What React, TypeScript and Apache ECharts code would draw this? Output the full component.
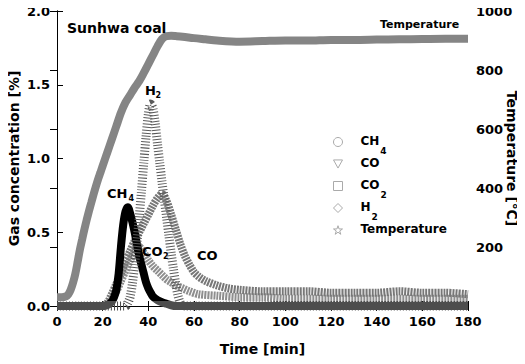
import React, { useEffect, useRef } from "react";
import * as echarts from "echarts";

const FONT = "DejaVu Sans";
const DARK = "#4d4d4d";

// Time ticks
const timeTicks = [0, 20, 40, 60, 80, 100, 120, 140, 160, 180];

// Temperature [°C]
const tempTime = [0, 2, 4, 5, 6, 7, 8, 9, 10, 11, 12, 13, 14, 15, 16, 17, 18, 19, 20, 22, 24, 26, 28, 30, 32, 34, 36, 38, 40, 42, 44, 46, 48, 50, 52, 55, 60, 65, 70, 80, 90, 100, 110, 120, 130, 140, 150, 160, 170, 180];
const tempValue = [30, 30, 33, 40, 55, 78, 108, 148, 190, 225, 260, 292, 322, 350, 378, 405, 430, 452, 475, 520, 565, 610, 655, 690, 715, 740, 762, 790, 820, 850, 880, 905, 915, 916, 915, 913, 908, 904, 900, 896, 898, 900, 900, 902, 902, 903, 904, 905, 906, 906];

// CH4 [%]
const ch4Time = [0, 10, 20, 22, 24, 25, 26, 27, 28, 29, 30, 31, 32, 33, 34, 35, 36, 37, 38, 39, 40, 41, 42, 44, 46, 48, 50, 52, 60, 80, 100, 120, 140, 160, 180];
const ch4Value = [0, 0, 0, 0.005, 0.03, 0.06, 0.11, 0.22, 0.4, 0.55, 0.64, 0.67, 0.63, 0.57, 0.5, 0.42, 0.34, 0.28, 0.22, 0.16, 0.12, 0.09, 0.065, 0.04, 0.025, 0.015, 0.005, 0, 0, 0, 0, 0, 0, 0, 0];

// CO [%]
const coTime = [0, 10, 20, 22, 24, 26, 28, 30, 32, 34, 36, 38, 40, 42, 44, 46, 48, 50, 52, 54, 56, 58, 60, 62, 65, 70, 75, 80, 90, 100, 110, 120, 130, 140, 150, 160, 170, 180];
const coValue = [0, 0, 0, 0.02, 0.08, 0.15, 0.22, 0.3, 0.37, 0.44, 0.5, 0.56, 0.62, 0.68, 0.73, 0.76, 0.71, 0.62, 0.52, 0.42, 0.34, 0.28, 0.23, 0.2, 0.17, 0.14, 0.12, 0.11, 0.1, 0.1, 0.1, 0.09, 0.09, 0.09, 0.1, 0.09, 0.09, 0.08];

// CO2 [%]
const co2Time = [0, 10, 20, 22, 24, 26, 28, 30, 32, 34, 36, 38, 40, 42, 44, 46, 48, 50, 52, 55, 58, 62, 70, 80, 90, 100, 120, 140, 160, 180];
const co2Value = [0, 0, 0, 0.01, 0.05, 0.1, 0.17, 0.24, 0.31, 0.37, 0.4, 0.36, 0.31, 0.27, 0.24, 0.21, 0.18, 0.16, 0.14, 0.12, 0.1, 0.08, 0.07, 0.06, 0.06, 0.05, 0.05, 0.05, 0.05, 0.05];

// H2 [%]
const h2Time = [0, 10, 20, 30, 31, 32, 33, 34, 35, 36, 37, 38, 39, 40, 41, 42, 43, 44, 45, 46, 47, 48, 49, 50, 51, 52, 53, 54, 55, 60, 80, 100, 120, 140, 160, 180];
const h2Value = [0, 0, 0, 0, 0.02, 0.06, 0.15, 0.28, 0.43, 0.6, 0.78, 0.97, 1.15, 1.3, 1.37, 1.34, 1.24, 1.1, 0.97, 0.84, 0.72, 0.6, 0.48, 0.36, 0.25, 0.15, 0.07, 0.02, 0, 0, 0, 0, 0, 0, 0, 0];

const legendParts: Record<string, [string, string]> = {
  CH4: ["CH", "4"],
  CO: ["CO", " "],
  CO2: ["CO", "2"],
  H2: ["H", "2"],
  Temperature: ["Temperature", " "],
};

const pairs = (t: number[], v: number[]) => t.map((x, i) => [x, v[i]]);

const STAR = "path://M5,0L6.2,3.6L10,3.6L6.9,5.8L8.1,9.5L5,7.2L1.9,9.5L3.1,5.8L0,3.6L3.8,3.6Z";
const TRI_DOWN = "path://M0,0L10,0L5,9Z";

export default function App() {
  const ref = useRef<HTMLDivElement>(null);
  useEffect(() => {
    if (!ref.current) return;
    const chart = echarts.init(ref.current, undefined, { renderer: "svg" });
    const axisLabel = { fontFamily: FONT, fontWeight: "bold" as const, fontSize: 13, color: "#000" };
    const nameStyle = { fontFamily: FONT, fontWeight: "bold" as const, fontSize: 14, color: "#000" };
    const legendIconStyle = { color: "#fff", borderColor: "#aaa", borderWidth: 1 };
    const vm = (idx: number, color: string) => ({
      type: "piecewise",
      show: false,
      seriesIndex: idx,
      dimension: 1,
      pieces: [
        { min: -1, max: 0.035, color: DARK },
        { min: 0.035, max: 10, color },
      ],
    });
    const txt = (x: number, y: number, text: string, size: number) => ({
      type: "text",
      x,
      y,
      z: 100,
      style: { text, fontFamily: FONT, fontWeight: "bold", fontSize: size, fill: "#000", align: "left", verticalAlign: "middle" },
    });
    chart.setOption({
      animation: false,
      backgroundColor: "#fff",
      grid: { left: 57, right: 57, top: 11, bottom: 58, containLabel: false, outerBoundsMode: "none" },
      xAxis: [
        {
          type: "value",
          min: 0,
          max: 180,
          interval: 20,
          position: "bottom",
          axisLine: { show: true, lineStyle: { color: "#000", width: 1 } },
          axisTick: { show: true, inside: true, length: 5, lineStyle: { color: "#000" } },
          axisLabel: { ...axisLabel, margin: 9, formatter: (v: number) => (timeTicks.includes(v) ? String(v) : "") },
          splitLine: { show: false },
          name: "Time [min]",
          nameLocation: "middle",
          nameGap: 36,
          nameMoveOverlap: false,
          nameTextStyle: nameStyle,
        },
        {
          type: "value",
          min: 0,
          max: 180,
          interval: 20,
          position: "top",
          axisLine: { show: true, lineStyle: { color: "#000", width: 1 } },
          axisTick: { show: true, inside: true, length: 5, lineStyle: { color: "#000" } },
          axisLabel: { show: false },
          splitLine: { show: false },
        },
      ],
      yAxis: [
        {
          type: "value",
          min: 0,
          max: 2,
          interval: 0.5,
          position: "left",
          axisLine: { show: true, lineStyle: { color: "#000", width: 1 } },
          axisTick: { show: true, inside: true, length: 6, lineStyle: { color: "#000" } },
          axisLabel: { ...axisLabel, margin: 7, formatter: (v: number) => v.toFixed(1) },
          splitLine: { show: false },
          name: "Gas concentration [%]",
          nameLocation: "middle",
          nameGap: 36,
          nameMoveOverlap: false,
          nameTextStyle: nameStyle,
        },
        {
          type: "value",
          min: 0,
          max: 1000,
          interval: 200,
          position: "right",
          axisLine: { show: true, lineStyle: { color: "#000", width: 1 } },
          axisTick: { show: true, inside: true, length: 7, lineStyle: { color: "#000" } },
          axisLabel: { ...axisLabel, margin: 8, formatter: (v: number) => (v === 0 ? "" : String(v)) },
          splitLine: { show: false },
          name: "Temperature [℃]",
          nameLocation: "middle",
          nameRotate: -90,
          nameGap: 37,
          nameMoveOverlap: false,
          nameTextStyle: nameStyle,
        },
      ],
      legend: {
        orient: "vertical",
        left: 328,
        top: 130,
        itemWidth: 9,
        itemHeight: 9,
        itemGap: 2,
        selectedMode: false,
        data: [
          { name: "CH4", icon: "circle", itemStyle: legendIconStyle },
          { name: "CO", icon: TRI_DOWN, itemStyle: legendIconStyle },
          { name: "CO2", icon: "rect", itemStyle: legendIconStyle },
          { name: "H2", icon: "diamond", itemStyle: legendIconStyle },
          { name: "Temperature", icon: STAR, itemStyle: legendIconStyle },
        ],
        formatter: (name: string) => {
          const p = legendParts[name] || [name, " "];
          return `{n|${p[0]}}{s|${p[1]}}`;
        },
        textStyle: {
          fontFamily: FONT,
          fontWeight: "bold",
          fontSize: 12,
          color: "#000",
          rich: {
            n: { fontFamily: FONT, fontWeight: "bold", fontSize: 12, lineHeight: 14, verticalAlign: "top", padding: [0, 0, 0, 13], color: "#000" },
            s: { fontFamily: FONT, fontWeight: "bold", fontSize: 9, lineHeight: 10, verticalAlign: "top", padding: [11, 0, 0, 1], color: "#000" },
          },
        },
      },
      visualMap: [vm(1, "#8e8e8e"), vm(2, "#777777"), vm(3, "#000000"), vm(4, "#5a5a5a")],
      series: [
        {
          name: "Temperature",
          type: "line",
          yAxisIndex: 1,
          data: pairs(tempTime, tempValue),
          showSymbol: false,
          smooth: 0.3,
          lineStyle: { color: "#858585", width: 8 },
          itemStyle: { color: "#858585" },
          z: 1,
        },
        {
          name: "CO2",
          type: "line",
          data: pairs(co2Time, co2Value),
          showSymbol: false,
          smooth: 0.3,
          clip: false,
          lineStyle: { width: 8, type: [2, 1] },
          itemStyle: { color: "#8e8e8e" },
          z: 2,
        },
        {
          name: "CO",
          type: "line",
          data: pairs(coTime, coValue),
          showSymbol: false,
          smooth: 0.3,
          clip: false,
          lineStyle: { width: 8, type: [2, 1] },
          itemStyle: { color: "#777" },
          z: 3,
        },
        {
          name: "CH4",
          type: "line",
          data: pairs(ch4Time, ch4Value),
          showSymbol: false,
          smooth: 0.3,
          clip: false,
          lineStyle: { width: 8 },
          itemStyle: { color: "#000" },
          z: 4,
        },
        {
          name: "H2",
          type: "line",
          data: pairs(h2Time, h2Value),
          showSymbol: false,
          smooth: 0.3,
          clip: false,
          lineStyle: { width: 9, type: [1, 2] },
          itemStyle: { color: "#5a5a5a" },
          z: 5,
        },
      ],
      graphic: [
        txt(67, 28, "Sunhwa coal", 14),
        txt(380, 24, "Temperature", 11),
        txt(145, 90, "H", 13),
        txt(155.5, 95, "2", 8),
        txt(107, 193, "CH", 13),
        txt(128.5, 198, "4", 8),
        txt(142, 251, "CO", 13),
        txt(163, 256, "2", 8),
        txt(197, 255, "CO", 13),
      ],
    });
    return () => chart.dispose();
  }, []);
  return <div ref={ref} style={{ width: 525, height: 364, margin: -8 }} />;
}
